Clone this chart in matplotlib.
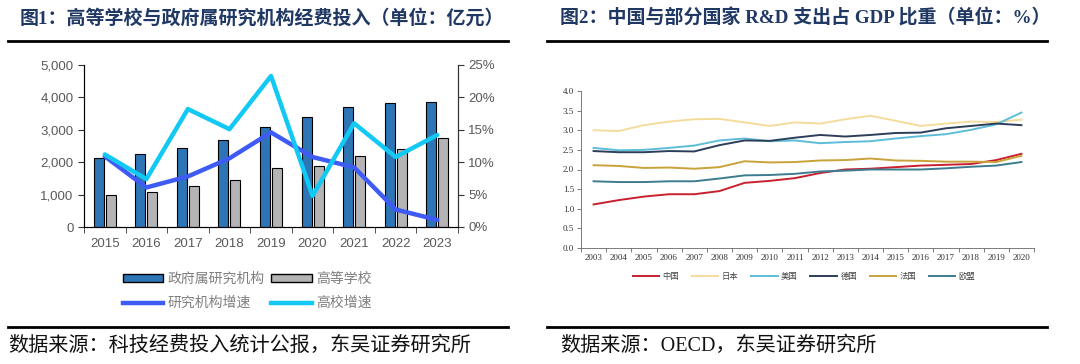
import matplotlib
matplotlib.use("Agg")
import matplotlib.pyplot as plt
from matplotlib.lines import Line2D
from matplotlib.patches import Patch
import numpy as np

# figure 1 data
years1 = ['2015', '2016', '2017', '2018', '2019', '2020', '2021', '2022', '2023']
gov_funds = [2140, 2263, 2438, 2695, 3086, 3405, 3714, 3817, 3858]
school_funds = [998, 1070, 1265, 1461, 1811, 1883, 2181, 2418, 2757]
gov_growth = [10.9, 6.1, 7.8, 10.6, 14.6, 10.8, 9.2, 2.7, 1.1]
school_growth = [11.2, 7.4, 18.2, 15.1, 23.3, 4.8, 16.0, 10.8, 14.2]

# figure 2 data
years2 = [str(y) for y in range(2003, 2021)]
china = [1.11, 1.22, 1.31, 1.37, 1.37, 1.45, 1.66, 1.71, 1.78, 1.91, 2.00, 2.02, 2.06, 2.10, 2.12, 2.14, 2.24, 2.40]
japan = [3.00, 2.98, 3.13, 3.22, 3.28, 3.29, 3.20, 3.11, 3.20, 3.17, 3.28, 3.37, 3.24, 3.11, 3.17, 3.22, 3.21, 3.27]
usa = [2.55, 2.49, 2.50, 2.55, 2.61, 2.74, 2.79, 2.72, 2.74, 2.67, 2.70, 2.72, 2.79, 2.85, 2.90, 3.01, 3.15, 3.45]
germany = [2.47, 2.44, 2.44, 2.47, 2.46, 2.62, 2.74, 2.73, 2.81, 2.88, 2.84, 2.88, 2.93, 2.94, 3.05, 3.11, 3.17, 3.13]
france = [2.11, 2.09, 2.04, 2.05, 2.02, 2.06, 2.21, 2.18, 2.19, 2.23, 2.24, 2.28, 2.23, 2.22, 2.20, 2.20, 2.19, 2.35]
eu = [1.70, 1.68, 1.68, 1.70, 1.70, 1.77, 1.85, 1.86, 1.89, 1.95, 1.97, 2.00, 2.00, 2.00, 2.03, 2.07, 2.10, 2.19]
countries = ['中国', '日本', '美国', '德国', '法国', '欧盟']
country_colors = ['#C8202F', '#F3DC9C', '#5DBDD8', '#2C3E5A', '#C9A23A', '#3D7C8F']

CJK = ['Noto Sans CJK SC']
SERIF = ['Liberation Serif', 'Noto Sans CJK SC']
TITLE_COLOR = '#203864'

fig = plt.figure(figsize=(10.8, 3.64), dpi=100)

# titles, rules and sources
fig.text(20 / 1080, 1 - 18 / 364, '图1：高等学校与政府属研究机构经费投入（单位：亿元）',
         family=SERIF, weight='bold', fontsize=13.7, color=TITLE_COLOR, va='center', ha='left')
fig.text(560 / 1080, 1 - 18 / 364, '图2：中国与部分国家 R&D 支出占 GDP 比重（单位：%）',
         family=SERIF, weight='bold', fontsize=13.7, color=TITLE_COLOR, va='center', ha='left')
for x0, x1 in [(8, 508), (547, 1047)]:
    fig.add_artist(Line2D([x0 / 1080, x1 / 1080], [1 - 41 / 364] * 2, color='black', lw=2))
    fig.add_artist(Line2D([x0 / 1080, x1 / 1080], [1 - 327 / 364] * 2, color='black', lw=2))
fig.text(8 / 1080, 1 - 346 / 364, '数据来源：科技经费投入统计公报，东吴证券研究所',
         family=SERIF, fontsize=14.5, color='#111111', va='center', ha='left')
fig.text(560 / 1080, 1 - 346 / 364, '数据来源：OECD，东吴证券研究所',
         family=SERIF, fontsize=14.5, color='#111111', va='center', ha='left')

# ---- figure 1 ----
ax1 = fig.add_axes([84 / 1080, 137 / 364, 374 / 1080, 162 / 364])
x = np.arange(len(years1))
w = 0.24
ax1.bar(x - 0.145, gov_funds, w, color='#2E75B6', edgecolor='black', lw=0.8, zorder=2)
ax1.bar(x + 0.145, school_funds, w, color='#B4B4B4', edgecolor='black', lw=0.8, zorder=2)
ax1.set_xlim(-0.5, len(years1) - 0.5)
ax1.set_ylim(0, 5000)
ax1.set_yticks(range(0, 5001, 1000))
ax1.set_yticklabels([f'{v:,}' for v in range(0, 5001, 1000)])
ax1.set_xticks(x)
ax1.set_xticklabels(years1)
ax1.set_xticks(np.arange(-0.5, len(years1)), minor=True)
ax1.tick_params(axis='x', which='major', length=0, pad=8)
ax1.tick_params(axis='x', which='minor', length=4, color='#333333')
ax1.tick_params(axis='y', length=4, color='#333333')
for t in ax1.get_xticklabels() + ax1.get_yticklabels():
    t.set_family('Liberation Sans')
    t.set_fontsize(9.5)
    t.set_color('#595959')
ax1.spines['top'].set_visible(False)
for s in ['left', 'right', 'bottom']:
    ax1.spines[s].set_color('#333333')

ax2 = ax1.twinx()
ax2.plot(x, gov_growth, color='#3F5BF5', lw=3.2, solid_capstyle='round', zorder=3)
ax2.plot(x, school_growth, color='#12C8F4', lw=3.2, solid_capstyle='round', zorder=3)
ax2.set_ylim(0, 25)
ax2.set_yticks(range(0, 26, 5))
ax2.set_yticklabels([f'{v}%' for v in range(0, 26, 5)])
ax2.tick_params(axis='y', length=4, color='#333333')
for t in ax2.get_yticklabels():
    t.set_family('Liberation Sans')
    t.set_fontsize(9.5)
    t.set_color('#595959')
ax2.spines['top'].set_visible(False)
ax2.spines['right'].set_color('#333333')

# legend fills column by column, so order is gov, gov growth, school, school growth
handles1 = [Patch(facecolor='#2E75B6', edgecolor='black', lw=1),
            Line2D([], [], color='#3F5BF5', lw=3.2),
            Patch(facecolor='#B4B4B4', edgecolor='black', lw=1),
            Line2D([], [], color='#12C8F4', lw=3.2)]
labels1 = ['政府属研究机构', '研究机构增速', '高等学校', '高校增速']
leg1 = fig.legend(handles1, labels1, ncol=2, loc='center', bbox_to_anchor=(247 / 1080, 1 - 291 / 364),
                  frameon=False, prop={'family': CJK, 'size': 10}, handlelength=2.9, handleheight=0.45,
                  columnspacing=0.5, handletextpad=0.3, labelspacing=0.7)
for t in leg1.get_texts():
    t.set_color('#7F7F7F')

# ---- figure 2 ----
ax3 = fig.add_axes([581 / 1080, 116 / 364, 453 / 1080, 157 / 364])
x2 = np.arange(len(years2))
for vals, c in zip([china, japan, usa, germany, france, eu], country_colors):
    ax3.plot(x2, vals, color=c, lw=1.4)
ax3.set_xlim(-0.5, len(years2) - 0.5)
ax3.set_ylim(0, 4.0)
ax3.set_yticks(np.arange(0, 4.01, 0.5))
ax3.set_yticklabels([f'{v:.1f}' for v in np.arange(0, 4.01, 0.5)])
ax3.set_xticks(x2)
ax3.set_xticklabels(years2)
ax3.set_xticks(np.arange(-0.5, len(years2)), minor=True)
ax3.tick_params(axis='x', which='major', length=0, pad=4)
ax3.tick_params(axis='x', which='minor', length=3, color='#666666', width=0.6)
ax3.tick_params(axis='y', length=3, color='#666666', width=0.6, pad=2)
for t in ax3.get_xticklabels() + ax3.get_yticklabels():
    t.set_family('Liberation Serif')
    t.set_fontsize(6.5)
    t.set_color('#333333')
ax3.spines['top'].set_visible(False)
ax3.spines['right'].set_visible(False)
for s in ['left', 'bottom']:
    ax3.spines[s].set_color('#666666')
    ax3.spines[s].set_linewidth(0.6)

handles2 = [Line2D([], [], color=c, lw=1.4) for c in country_colors]
leg2 = fig.legend(handles2, countries, ncol=6, loc='center', bbox_to_anchor=(804 / 1080, 1 - 276 / 364),
                  frameon=False, prop={'family': CJK, 'size': 6}, handlelength=3.2,
                  columnspacing=1.5, handletextpad=0.4)
for t in leg2.get_texts():
    t.set_color('#444444')

fig.savefig('out.png', dpi=100)
